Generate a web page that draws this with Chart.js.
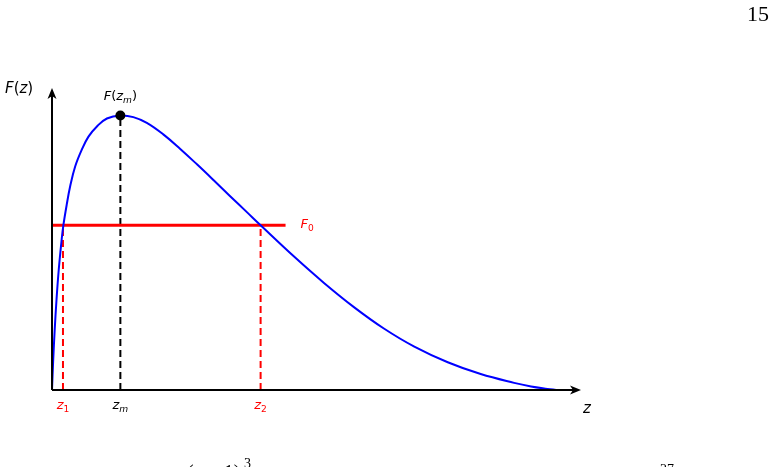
<!DOCTYPE html>
<html>
<head>
<meta charset="utf-8">
<script src="https://cdn.jsdelivr.net/npm/chart.js@4.4.1/dist/chart.umd.min.js"></script>
<style>
    body { margin: 0; background: #ffffff; }
    #marco { position: relative; width: 774px; height: 467px; overflow: hidden; }
</style>
</head>
<body>
<div id="marco"><canvas id="grafica" width="774" height="467"></canvas></div>
<script>
// curve (F normalised so that F(zm) = 1)
const zValues = [0, 0.0024, 0.0054, 0.0090, 0.0135, 0.0193, 0.0227, 0.0295, 0.0363, 0.0464,
    0.0598, 0.0731, 0.0900, 0.110, 0.137, 0.163, 0.190, 0.223, 0.257, 0.291,
    0.324, 0.357, 0.391, 0.418, 0.485, 0.545, 0.605, 0.665, 0.726, 0.793,
    0.859, 0.926, 0.960, 0.993, 1.01];
const fValues = [0, 0.109, 0.219, 0.328, 0.438, 0.547, 0.599, 0.675, 0.741, 0.814,
    0.876, 0.923, 0.960, 0.989, 1.0, 0.994, 0.973, 0.931, 0.878, 0.821,
    0.764, 0.706, 0.647, 0.600, 0.486, 0.390, 0.302, 0.224, 0.158, 0.101,
    0.058, 0.026, 0.013, 0.004, 0];

const z1 = 0.022;
const zm = 0.137;
const z2 = 0.418;
const fPeak = 1.0;
const f0 = 0.6;
const f0LineEnd = 0.468;
const zAxisMax = 1.06;
const fAxisMax = 1.1;

const AZUL = '#0000ff';
const ROJO = '#ff0000';
const NEGRO = '#000000';
const SANS = '"DejaVu Sans", sans-serif';
const SERIF = '"Liberation Serif", "DejaVu Serif", serif';

const curva = zValues.map((z, i) => ({ x: z, y: fValues[i] }));

// draws a little formula made of pieces: [text, italic, subscript]
function escribir(ctx, piezas, x, y, size, color, align) {
    const medir = piezas.map(([t, it, sub]) => {
        const s = sub ? size * 0.7 : size;
        const font = `${it ? 'italic ' : ''}${s}px ${SANS}`;
        ctx.font = font;
        return { t, font, dy: sub ? size * 0.22 : 0, w: ctx.measureText(t).width };
    });
    const total = medir.reduce((a, p) => a + p.w, 0);
    let cx = align === 'center' ? x - total / 2 : x;
    ctx.fillStyle = color;
    ctx.textAlign = 'left';
    ctx.textBaseline = 'alphabetic';
    medir.forEach(p => {
        ctx.font = p.font;
        ctx.fillText(p.t, cx, y + p.dy);
        cx += p.w;
    });
}

function flecha(ctx, tx, ty, dir) {
    const largo = 11, ancho = 4.5, muesca = 3;
    ctx.beginPath();
    if (dir === 'derecha') {
        ctx.moveTo(tx, ty);
        ctx.lineTo(tx - largo, ty - ancho);
        ctx.lineTo(tx - largo + muesca, ty);
        ctx.lineTo(tx - largo, ty + ancho);
    } else {
        ctx.moveTo(tx, ty);
        ctx.lineTo(tx - ancho, ty + largo);
        ctx.lineTo(tx, ty + largo - muesca);
        ctx.lineTo(tx + ancho, ty + largo);
    }
    ctx.closePath();
    ctx.fill();
}

const ejesYTextos = {
    id: 'ejesYTextos',
    afterDraw(chart) {
        const ctx = chart.ctx;
        const sx = chart.scales.x;
        const sy = chart.scales.y;
        const x0 = sx.getPixelForValue(0);
        const y0 = sy.getPixelForValue(0);
        const xMax = sx.getPixelForValue(zAxisMax);
        const yMax = sy.getPixelForValue(fAxisMax);

        ctx.save();
        ctx.strokeStyle = NEGRO;
        ctx.fillStyle = NEGRO;
        ctx.lineWidth = 2;
        ctx.beginPath();
        ctx.moveTo(x0, y0);
        ctx.lineTo(xMax - 6, y0);
        ctx.moveTo(x0, y0);
        ctx.lineTo(x0, yMax + 6);
        ctx.stroke();
        flecha(ctx, xMax, y0, 'derecha');
        flecha(ctx, x0, yMax, 'arriba');

        escribir(ctx, [['F', true], ['(', false], ['z', true], [')', false]], 5, 93, 15, NEGRO, 'left');
        escribir(ctx, [['z', true]], xMax + 2, 413, 15, NEGRO, 'left');
        escribir(ctx, [['F', true], ['(', false], ['z', true], ['m', true, true], [')', false]],
            sx.getPixelForValue(zm), sy.getPixelForValue(fPeak) - 15, 13, NEGRO, 'center');
        escribir(ctx, [['F', true], ['0', false, true]],
            sx.getPixelForValue(f0LineEnd) + 15, sy.getPixelForValue(f0) + 3, 13, ROJO, 'left');
        escribir(ctx, [['z', true], ['1', false, true]], sx.getPixelForValue(z1), y0 + 19, 13, ROJO, 'center');
        escribir(ctx, [['z', true], ['m', true, true]], sx.getPixelForValue(zm), y0 + 19, 13, NEGRO, 'center');
        escribir(ctx, [['z', true], ['2', false, true]], sx.getPixelForValue(z2), y0 + 19, 13, ROJO, 'center');

        // page furniture of the scanned page
        ctx.fillStyle = NEGRO;
        ctx.font = `22px ${SERIF}`;
        ctx.textAlign = 'right';
        ctx.fillText('15', 769, 21);
        ctx.textAlign = 'left';
        ctx.font = `20px ${SERIF}`;
        ctx.fillText('(z \u2212 1)', 187, 479);
        ctx.font = `14px ${SERIF}`;
        ctx.fillText('3', 244, 468);
        ctx.fillText('27', 660, 474);
        ctx.restore();
    }
};

new Chart(document.getElementById('grafica'), {
    type: 'scatter',
    data: {
        datasets: [
            {
                data: [{ x: zm, y: fPeak }],
                pointRadius: 5,
                pointBackgroundColor: NEGRO,
                pointBorderWidth: 0,
                clip: false
            },
            {
                data: curva,
                showLine: true,
                borderColor: AZUL,
                borderWidth: 2,
                pointRadius: 0,
                tension: 0.4,
                clip: false
            },
            {
                data: [{ x: 0, y: f0 }, { x: f0LineEnd, y: f0 }],
                showLine: true,
                borderColor: ROJO,
                borderWidth: 3,
                pointRadius: 0
            },
            {
                data: [{ x: zm, y: 0 }, { x: zm, y: fPeak }],
                showLine: true,
                borderColor: NEGRO,
                borderWidth: 2,
                borderDash: [7, 4],
                pointRadius: 0
            },
            {
                data: [{ x: z1, y: 0 }, { x: z1, y: f0 }],
                showLine: true,
                borderColor: ROJO,
                borderWidth: 2,
                borderDash: [7, 4],
                pointRadius: 0
            },
            {
                data: [{ x: z2, y: 0 }, { x: z2, y: f0 }],
                showLine: true,
                borderColor: ROJO,
                borderWidth: 2,
                borderDash: [7, 4],
                pointRadius: 0
            }
        ]
    },
    options: {
        responsive: false,
        animation: false,
        layout: {
            padding: { left: 52, right: 193, top: 88, bottom: 77 }
        },
        scales: {
            x: { type: 'linear', min: 0, max: zAxisMax, display: false },
            y: { type: 'linear', min: 0, max: fAxisMax, display: false }
        },
        plugins: {
            legend: { display: false },
            tooltip: { enabled: false }
        }
    },
    plugins: [ejesYTextos]
});
</script>
</body>
</html>
